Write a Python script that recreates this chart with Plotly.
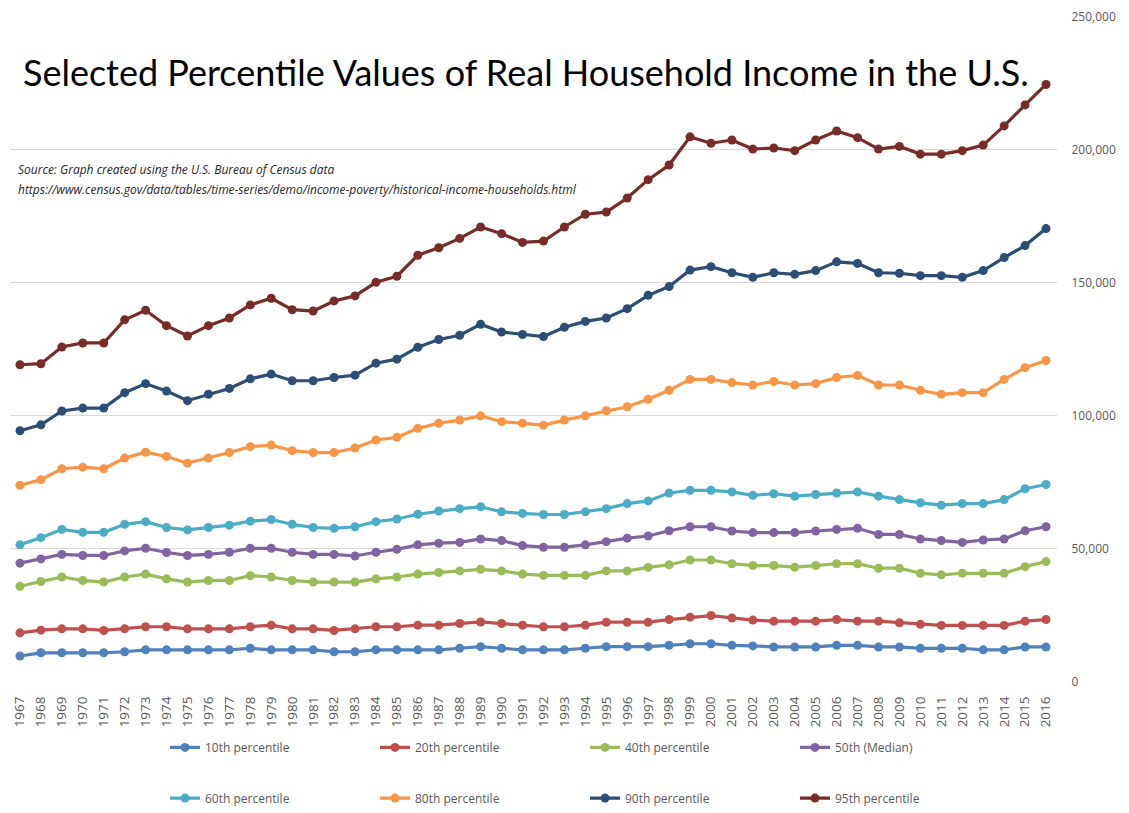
import plotly.graph_objects as go

years = [str(y) for y in range(1967, 2017)]

p10 = [9700, 10900, 10900, 10900, 10900, 11300, 12000, 12000, 12000, 12000,
       12000, 12600, 12000, 12000, 12000, 11300, 11300, 12000, 12000, 12000,
       12000, 12600, 13200, 12600, 12000, 12000, 12000, 12600, 13200, 13200,
       13200, 13700, 14300, 14300, 13700, 13500, 13100, 13100, 13100, 13700,
       13700, 13100, 13100, 12600, 12600, 12600, 12000, 12000, 13100, 13100]
p20 = [18400, 19400, 19900, 19900, 19300, 19900, 20700, 20700, 19900, 19900,
       19900, 20700, 21300, 19900, 19900, 19300, 19900, 20700, 20700, 21300,
       21300, 21900, 22500, 21900, 21300, 20700, 20700, 21300, 22400, 22400,
       22400, 23400, 24300, 24900, 24000, 23200, 22800, 22800, 22800, 23400,
       22800, 22800, 22200, 21600, 21200, 21200, 21200, 21200, 22800, 23400]
p40 = [35900, 37700, 39400, 38100, 37500, 39400, 40500, 38700, 37500, 38100,
       38100, 39900, 39400, 38100, 37500, 37500, 37500, 38700, 39400, 40500,
       41100, 41700, 42300, 41700, 40500, 40000, 40000, 40000, 41700, 41700,
       43000, 44000, 45800, 45800, 44400, 43700, 43700, 43100, 43700, 44400,
       44400, 42700, 42700, 40800, 40200, 40800, 40800, 40800, 43300, 45200]
p50 = [44600, 46200, 47900, 47500, 47500, 49200, 50200, 48600, 47500, 47900,
       48700, 50200, 50200, 48700, 47900, 47900, 47300, 48700, 49800, 51500,
       52100, 52400, 53700, 53100, 51200, 50600, 50600, 51500, 52700, 54000,
       54800, 56800, 58300, 58300, 56700, 56100, 56100, 56100, 56700, 57300,
       57700, 55400, 55400, 53700, 53100, 52400, 53300, 53700, 56800, 58300]
p60 = [51500, 54200, 57300, 56200, 56200, 59200, 60200, 58000, 57100, 58000,
       58900, 60400, 61000, 59200, 58000, 57700, 58300, 60200, 61200, 63000,
       64200, 65100, 65800, 63900, 63300, 62900, 62900, 63900, 65100, 67000,
       68000, 71000, 72000, 72000, 71400, 70100, 70700, 69800, 70400, 71000,
       71400, 69800, 68500, 67300, 66400, 67000, 67000, 68500, 72600, 74200]
p80 = [73900, 76000, 80100, 80700, 80100, 84100, 86300, 84700, 82200, 84100,
       86200, 88400, 89000, 86900, 86200, 86200, 87900, 90900, 91900, 95300,
       97200, 98400, 100000, 97800, 97200, 96500, 98400, 100000, 101900, 103400,
       106200, 109600, 113700, 113700, 112500, 111600, 112900, 111600, 112100, 114400,
       115200, 111600, 111600, 109600, 108100, 108700, 108700, 113700, 118100, 120800]
p90 = [94400, 96600, 101800, 102900, 102900, 108700, 112100, 109300, 105700, 108100,
       110300, 113900, 115700, 113200, 113200, 114400, 115300, 119800, 121300, 125800,
       128700, 130300, 134400, 131500, 130600, 129800, 133300, 135500, 136800, 140300,
       145300, 148600, 154800, 156100, 153800, 152100, 153800, 153200, 154600, 157900,
       157300, 153800, 153600, 152700, 152700, 152100, 154600, 159500, 164000, 170400]
p95 = [119200, 119600, 125900, 127400, 127400, 136100, 139700, 133900, 130000, 133900,
       136800, 141700, 144200, 139900, 139400, 143200, 145100, 150200, 152500, 160400,
       163200, 166700, 171000, 168500, 165200, 165700, 171000, 175800, 176600, 181900,
       188800, 194300, 204900, 202500, 203700, 200300, 200700, 199700, 203700, 207100,
       204600, 200300, 201300, 198400, 198400, 199700, 201800, 209000, 216900, 224600]

series_names = ["10th percentile", "20th percentile", "40th percentile", "50th (Median)",
                "60th percentile", "80th percentile", "90th percentile", "95th percentile"]
series_values = [p10, p20, p40, p50, p60, p80, p90, p95]
colors = ["#4F81BD", "#C0504D", "#9BBB59", "#8064A2",
          "#4BACC6", "#F79646", "#2C4D75", "#772C2A"]

W, H = 1129, 813


def px(xp):
    return xp / W


def py(yp):
    return (H - yp) / H


fig = go.Figure()
for i, (name, vals, col) in enumerate(zip(series_names, series_values, colors)):
    fig.add_trace(go.Scatter(
        x=years, y=vals, name=name, mode="lines+markers",
        line=dict(color=col, width=3.2),
        marker=dict(color=col, size=9, symbol="circle"),
        legend="legend" if i < 4 else "legend2",
    ))

legend_common = dict(
    orientation="h", xanchor="left", yanchor="middle",
    font=dict(family="Open Sans, sans-serif", size=12, color="#595959"),
    entrywidth=165, entrywidthmode="pixels",
    bgcolor="rgba(0,0,0,0)", itemwidth=30, traceorder="normal",
)

fig.update_layout(
    width=W, height=H,
    margin=dict(l=0, r=0, t=0, b=0),
    paper_bgcolor="white", plot_bgcolor="white",
    font=dict(family="Open Sans, sans-serif", color="#595959"),
    xaxis=dict(
        domain=[px(9.5), px(1056.5)], type="category", range=[-0.5, 49.5],
        tickangle=-90, showgrid=False, zeroline=False, showline=False,
        ticks="", tickfont=dict(size=13.5, color="#595959"), automargin=False,
        ticklabelstandoff=11,
    ),
    yaxis=dict(
        domain=[py(686), py(17)], range=[0, 250000],
        side="right", tickvals=[0, 50000, 100000, 150000, 200000, 250000],
        tickformat=",", showgrid=True, gridcolor="#D9D9D9", gridwidth=1,
        zeroline=False, showline=False, ticks="", ticklabelstandoff=14,
        tickfont=dict(size=12, color="#595959"), automargin=False,
    ),
    legend=dict(x=px(165), y=py(752), **legend_common),
    legend2=dict(x=px(165), y=py(803), **legend_common),
    showlegend=True,
)

fig.add_annotation(
    text="Selected Percentile Values of Real Household Income in the U.S.",
    xref="paper", yref="paper", x=px(526), y=py(72),
    xanchor="center", yanchor="middle", showarrow=False,
    font=dict(family="Lato, Open Sans, sans-serif", size=36, color="black"),
)
fig.add_annotation(
    text="<i>Source: Graph created using the U.S. Bureau of Census data</i>",
    xref="paper", yref="paper", x=px(16), y=py(171),
    xanchor="left", yanchor="middle", showarrow=False,
    font=dict(family="Open Sans, sans-serif", size=12, color="#262626"),
)
fig.add_annotation(
    text="<i>https://www.census.gov/data/tables/time-series/demo/income-poverty/historical-income-households.html</i>",
    xref="paper", yref="paper", x=px(16), y=py(191),
    xanchor="left", yanchor="middle", showarrow=False,
    font=dict(family="Open Sans, sans-serif", size=12, color="#262626"),
)

fig.write_html(
    "out.html",
    config={"displayModeBar": False},
    post_script="document.body.style.margin='0';document.body.style.overflow='hidden';",
)
